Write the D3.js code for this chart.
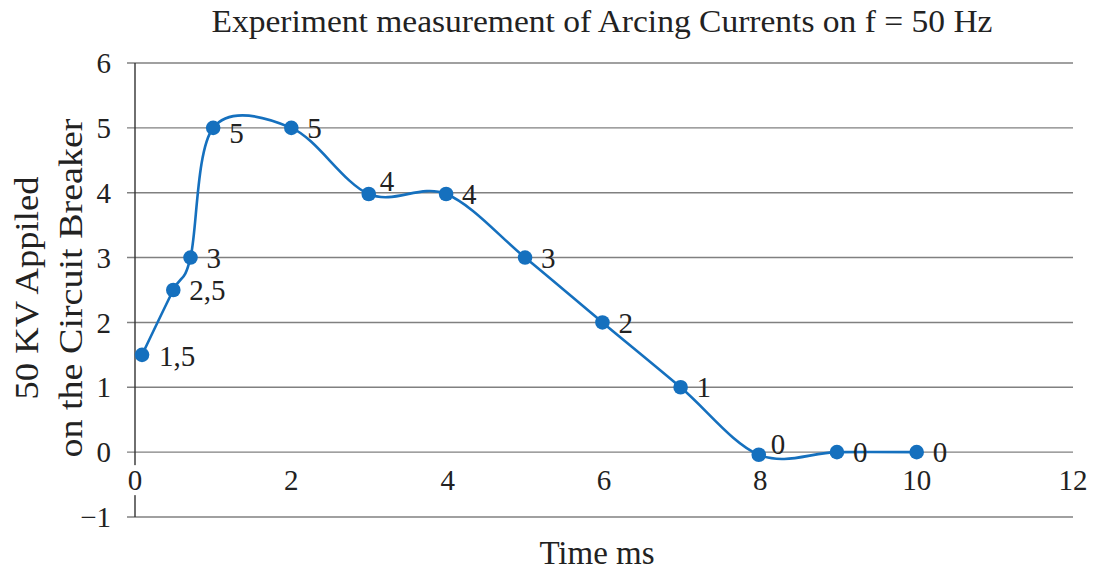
<!DOCTYPE html>
<html><head><meta charset="utf-8">
<script src="https://cdn.jsdelivr.net/npm/d3@7"></script>
<style>body{margin:0;background:#fff}svg{display:block}text{font-family:"Liberation Serif","DejaVu Serif",serif;fill:#222}</style>
</head><body>
<svg id="c" width="1094" height="572"></svg>
<script>
const timeMs = [0.09, 0.49, 0.71, 1.0, 2.0, 2.99, 3.98, 4.99, 5.98, 6.98, 7.98, 8.98, 10.0];
const current = [1.5, 2.5, 3, 5, 5, 3.98, 3.98, 3, 2, 1, -0.04, 0, 0];
const pointLabels = ["1,5","2,5","3","5","5","4","4","3","2","1","0","0","0"];
const xTicks = [0,2,4,6,8,10,12];
const yTicks = [-1,0,1,2,3,4,5,6];

const svg = d3.select("#c");
const L=135, R=1073, T=63, B=517;
const x = d3.scaleLinear().domain([0,12]).range([L,R]);
const y = d3.scaleLinear().domain([-1,6]).range([B,T]);
const blue="#1570be";

// gridlines
svg.append("g").selectAll("line").data(yTicks).join("line")
  .attr("x1",L-8).attr("x2",R).attr("y1",d=>y(d)).attr("y2",d=>y(d))
  .attr("stroke","#808080").attr("stroke-width",1.4);
// y axis line
svg.append("line").attr("x1",L).attr("x2",L).attr("y1",T).attr("y2",B).attr("stroke","#333").attr("stroke-width",1.4);

// y tick labels
svg.append("g").selectAll("text").data(yTicks).join("text")
  .attr("x",L-24).attr("y",d=>y(d)).attr("dy","0.35em").attr("text-anchor","end")
  .attr("font-size",29).text(d=>d<0?"\u2212"+Math.abs(d):d);

// x tick labels (on zero line)
const xl = svg.append("g").selectAll("g").data(xTicks).join("g");
xl.filter(d=>d===0).append("rect").attr("x",d=>x(d)-9).attr("y",y(0)+13).attr("width",18).attr("height",30).attr("fill","#fff");
xl.append("text").attr("x",d=>x(d)).attr("y",y(0)+28).attr("dy","0.35em").attr("text-anchor","middle")
  .attr("font-size",29).text(d=>d);

// line
const pts = timeMs.map((t,i)=>[t,current[i]]);
svg.append("path").datum(pts)
  .attr("d", d3.line().x(d=>x(d[0])).y(d=>y(d[1])).curve(d3.curveCatmullRom.alpha(0)))
  .attr("fill","none").attr("stroke",blue).attr("stroke-width",2.6);
svg.append("g").selectAll("circle").data(pts).join("circle")
  .attr("cx",d=>x(d[0])).attr("cy",d=>y(d[1])).attr("r",7.3).attr("fill",blue);

// data labels
const nudge = {0:[1,1],3:[0,5],5:[-5,-13],10:[-4,-11]};
svg.append("g").selectAll("text").data(pts).join("text")
  .attr("x",(d,i)=>x(d[0])+16+(nudge[i]?nudge[i][0]:0))
  .attr("y",(d,i)=>y(d[1])+(nudge[i]?nudge[i][1]:0)).attr("dy","0.35em")
  .attr("font-size",29).text((d,i)=>pointLabels[i]);

// titles
svg.append("text").attr("x",602).attr("y",32).attr("text-anchor","middle").attr("font-size",31)
  .attr("textLength",781).attr("lengthAdjust","spacingAndGlyphs")
  .text("Experiment measurement of Arcing Currents on f = 50 Hz");
svg.append("text").attr("x",597).attr("y",564).attr("text-anchor","middle").attr("font-size",33).text("Time ms");
const yt = svg.append("text").attr("transform","translate(0,288) rotate(-90)").attr("text-anchor","middle").attr("font-size",34);
yt.append("tspan").attr("x",0).attr("y",38).attr("textLength",223).attr("lengthAdjust","spacingAndGlyphs").text("50 KV Appiled");
yt.append("tspan").attr("x",0).attr("y",82).attr("textLength",339).attr("lengthAdjust","spacingAndGlyphs").text("on the Circuit Breaker");
</script>
</body></html>
